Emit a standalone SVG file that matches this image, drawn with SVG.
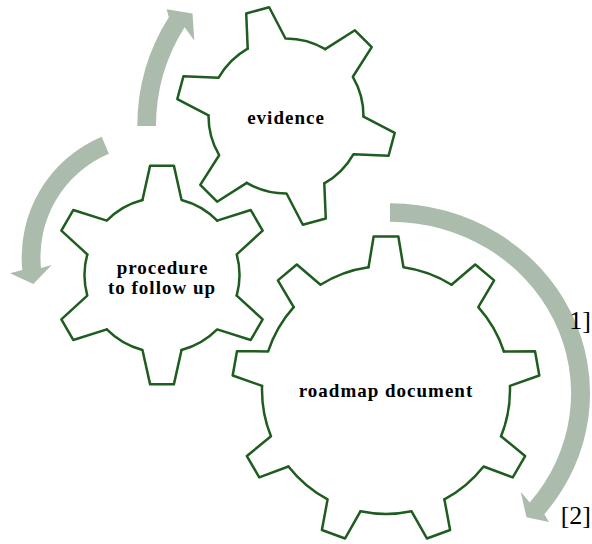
<svg xmlns="http://www.w3.org/2000/svg" width="592" height="544" viewBox="0 0 592 544">
<style>
.gear{fill:none;stroke:#1f5c1f;stroke-width:2.5;stroke-linejoin:round;stroke-linecap:round}
.arrow{fill:#abbcad;stroke:none}
.label{font-family:"Liberation Serif","Times New Roman",serif;font-weight:bold;font-size:19px;letter-spacing:1px;fill:#000;text-anchor:middle}
.ref{font-family:"Liberation Serif","Times New Roman",serif;font-size:26px;fill:#000;text-anchor:end}
</style>
<defs>
<path id="t9" d="M122.76,-17.47 L153.5,-12.35 L153.5,12.35 L122.76,17.47 A124,124 0 0 1 105.27,65.53"/>
<path id="t6" d="M75,-19.54 L109.36,-11.88 L109.36,11.88 L75,19.54 A77.5,77.5 0 0 1 54.42,55.18"/>
</defs>
<rect width="592" height="544" fill="#fff"/>
<g id="connectors">
<path class="arrow" d="M137.3,126 A203.5,203.5 0 0 1 168.8,17.3 L166.7,9.3 L192.5,13.5 L194.3,40.4 L184.6,27.3 A184.8,184.8 0 0 0 156,126 Z"/>
<path class="arrow" d="M101.7,136.7 A130.8,130.8 0 0 0 22.3,270 L10,273.3 L33.3,284 L51.7,265 L41,268.1 A112,112 0 0 1 108.9,153.8 Z"/>
<path class="arrow" d="M390,203.3 A200,190 0 0 1 544.3,514.2 L549,522 L526.5,517.3 L520.7,491.7 L529.7,502.5 A181,171.6 0 0 0 390,221.7 Z"/>
</g>
<g id="evidence">
<g class="gear" transform="translate(286,116)">
<use href="#t6" transform="rotate(-105)"/>
<use href="#t6" transform="rotate(-45)"/>
<use href="#t6" transform="rotate(15)"/>
<use href="#t6" transform="rotate(75)"/>
<use href="#t6" transform="rotate(135)"/>
<use href="#t6" transform="rotate(195)"/>
</g>
<text class="label" x="286" y="124">evidence</text>
</g>
<g id="procedure">
<g class="gear" transform="translate(162,275)">
<use href="#t6" transform="rotate(-90)"/>
<use href="#t6" transform="rotate(-30)"/>
<use href="#t6" transform="rotate(30)"/>
<use href="#t6" transform="rotate(90)"/>
<use href="#t6" transform="rotate(150)"/>
<use href="#t6" transform="rotate(210)"/>
</g>
<text class="label" x="162.5" y="274">procedure</text>
<text class="label" x="162" y="294">to follow up</text>
</g>
<g id="roadmap">
<g class="gear" transform="translate(386,390)">
<use href="#t9" transform="rotate(-90)"/>
<use href="#t9" transform="rotate(-50)"/>
<use href="#t9" transform="rotate(-10)"/>
<use href="#t9" transform="rotate(30)"/>
<use href="#t9" transform="rotate(70)"/>
<use href="#t9" transform="rotate(110)"/>
<use href="#t9" transform="rotate(150)"/>
<use href="#t9" transform="rotate(190)"/>
<use href="#t9" transform="rotate(230)"/>
</g>
<text class="label" x="386" y="397">roadmap document</text>
</g>
<text class="ref" x="591" y="329">1]</text>
<text class="ref" x="591" y="524">[2]</text>
</svg>
